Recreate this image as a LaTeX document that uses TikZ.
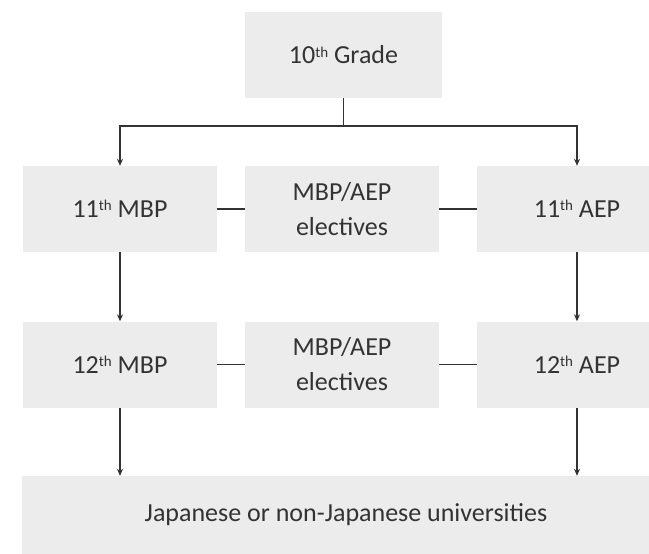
\documentclass[tikz,border=0pt]{standalone}
\usepackage{fontspec}
\setmainfont{Carlito}
\usetikzlibrary{arrows.meta}
\definecolor{boxgray}{HTML}{ECECEC}
\definecolor{inkgray}{HTML}{333333}
\newcommand{\gradesup}[1]{\raisebox{0.55ex}{\fontsize{15}{15}\selectfont #1}}
\begin{document}
\begin{tikzpicture}[x=1pt,y=-1pt,>={Stealth[length=7pt,width=6pt]},
  box/.style={rectangle,fill=boxgray,inner sep=0pt,align=center,text=inkgray,
    font=\fontsize{26}{35}\selectfont,minimum height=86pt},
  link/.style={draw=inkgray,line width=1.5pt}]
\clip (0,0) rectangle (649,554);

\node[box,minimum width=197pt] (g10) at (343.5,55) {10\gradesup{th} Grade};

\node[box,minimum width=194pt] (m11) at (120,209) {11\gradesup{th} MBP};
\node[box,minimum width=194pt] (e11) at (342,209) {MBP/AEP\\electives};
\node[box,minimum width=200pt] (a11) at (577,209) {11\gradesup{th} AEP};

\node[box,minimum width=194pt] (m12) at (120,364.5) {12\gradesup{th} MBP};
\node[box,minimum width=194pt] (e12) at (342,364.5) {MBP/AEP\\electives};
\node[box,minimum width=200pt] (a12) at (577,364.5) {12\gradesup{th} AEP};

\node[box,minimum width=648pt,minimum height=78pt] (uni) at (346,515) {Japanese or non-Japanese universities};

\coordinate (fork) at (343.5,126);
\draw[link] (g10.south) -- (fork);
\draw[link,->] (fork) -| (m11.north);
\draw[link,->] (fork) -| (a11.north);

\draw[link] (m11.east) -- (e11.west);
\draw[link] (e11.east) -- (a11.west);
\draw[link] (m12.east) -- (e12.west);
\draw[link] (e12.east) -- (a12.west);

\draw[link,->] (m11.south) -- (m12.north);
\draw[link,->] (a11.south) -- (a12.north);
\draw[link,->] (m12.south) -- (m12.south |- uni.north);
\draw[link,->] (a12.south) -- (a12.south |- uni.north);
\end{tikzpicture}
\end{document}
